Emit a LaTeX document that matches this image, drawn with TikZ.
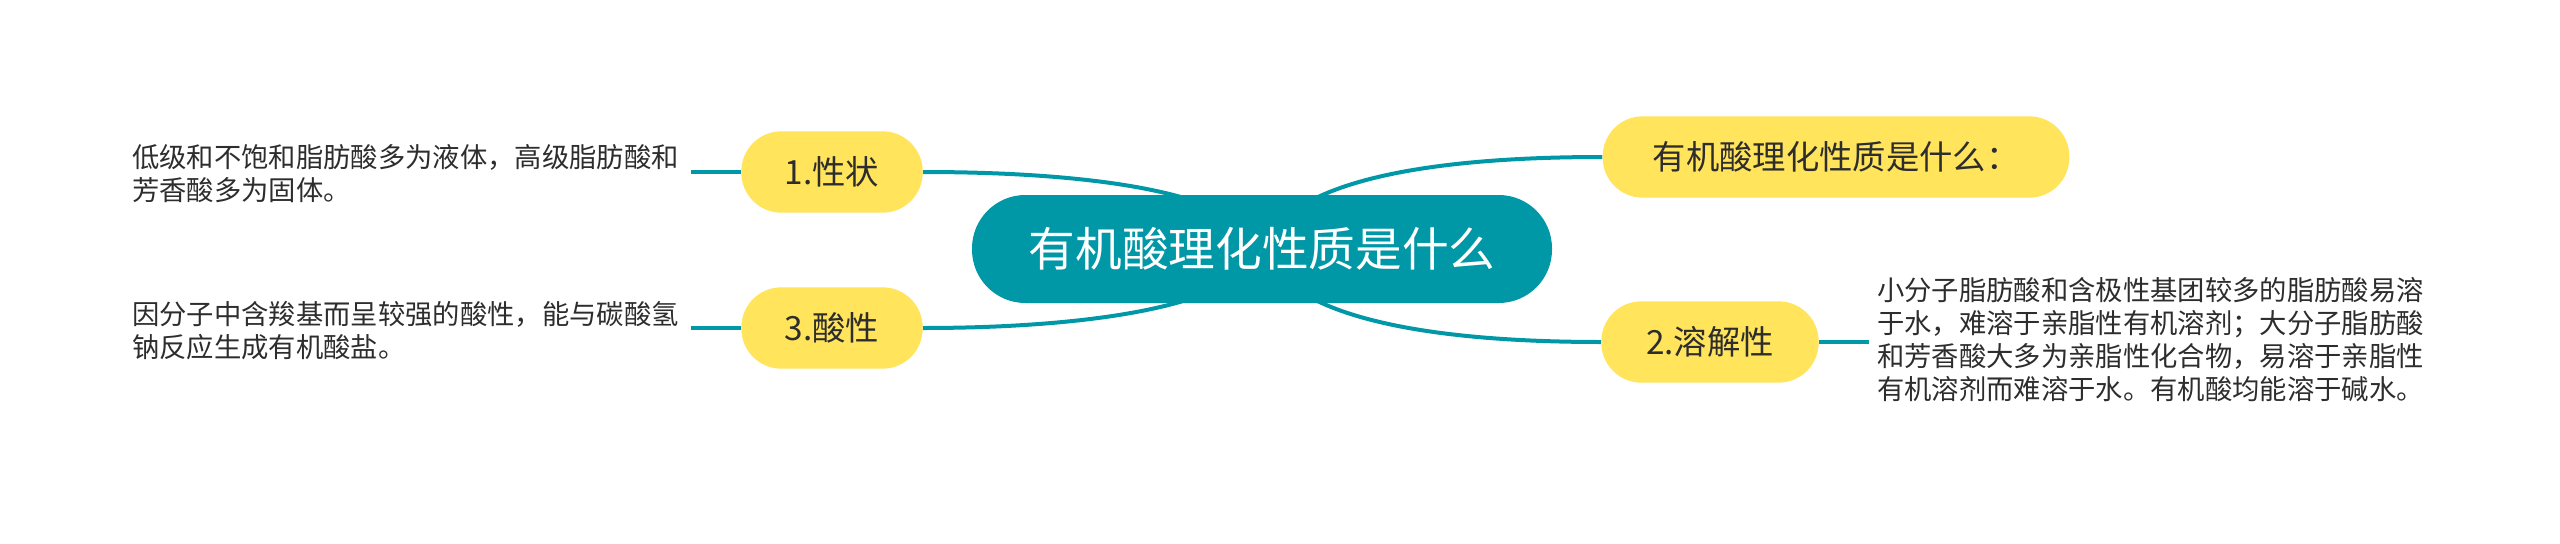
\documentclass[tikz,border=0pt]{standalone}
\usepackage{fontspec}
\setmainfont{Noto Sans CJK SC}
\usetikzlibrary{backgrounds}
\definecolor{mapteal}{RGB}{0,151,167}
\definecolor{mapyellow}{RGB}{255,228,92}
\definecolor{maptext}{RGB}{45,45,45}

\begin{document}
\begin{tikzpicture}[x=0.75pt,y=-0.75pt,
    rootbox/.style={fill=mapteal,text=white,rounded corners=40pt,minimum height=81pt,font=\fontsize{35}{42}\selectfont},
    topicbox/.style={fill=mapyellow,text=maptext,rounded corners=30pt,minimum height=61pt,font=\fontsize{25}{30}\selectfont},
    notebox/.style={text=maptext,align=left,inner xsep=6pt,font=\fontsize{20.5}{24.75}\selectfont},
    branch/.style={draw=mapteal,line width=3pt}]
    \useasboundingbox (0,0) rectangle (2560,543);
    \node (root) at (1262,249) [rootbox,minimum width=435pt] {有机酸理化性质是什么};
    \node (title) at (1836,157) [topicbox,minimum width=350pt] {有机酸理化性质是什么：};
    \node (n1) at (832,172) [topicbox,minimum width=136pt] {1.性状};
    \node (n2) at (1710,342) [topicbox,minimum width=163pt] {2.溶解性};
    \node (n3) at (832,328) [topicbox,minimum width=136pt] {3.酸性};
    \node (t1) at (691,174) [notebox,anchor=east,text width=413pt]
        {低级和不饱和脂肪酸多为液体，高级脂肪酸和\\芳香酸多为固体。};
    \node (t3) at (691,331) [notebox,anchor=east,text width=413pt]
        {因分子中含羧基而呈较强的酸性，能与碳酸氢\\钠反应生成有机酸盐。};
    \node (t2) at (1869,340) [notebox,anchor=west,text width=417pt]
        {小分子脂肪酸和含极性基团较多的脂肪酸易溶\\于水，难溶于亲脂性有机溶剂；大分子脂肪酸\\和芳香酸大多为亲脂性化合物，易溶于亲脂性\\有机溶剂而难溶于水。有机酸均能溶于碱水。};
    \begin{scope}[on background layer]
        \draw[branch] (root.center) .. controls +(28,-74) and +(-152,0) .. (title.west);
        \draw[branch] (root.center) .. controls +(28,74) and +(-152,0) .. (n2.west);
        \draw[branch] (root.center) .. controls +(-22,-59) and +(158,0) .. (n1.east);
        \draw[branch] (root.center) .. controls +(-22,59) and +(158,0) .. (n3.east);
        \draw[branch] (n1.west) -- (n1.west -| t1.east);
        \draw[branch] (n3.west) -- (n3.west -| t3.east);
        \draw[branch] (n2.east) -- (n2.east -| t2.west);
    \end{scope}
\end{tikzpicture}
\end{document}
